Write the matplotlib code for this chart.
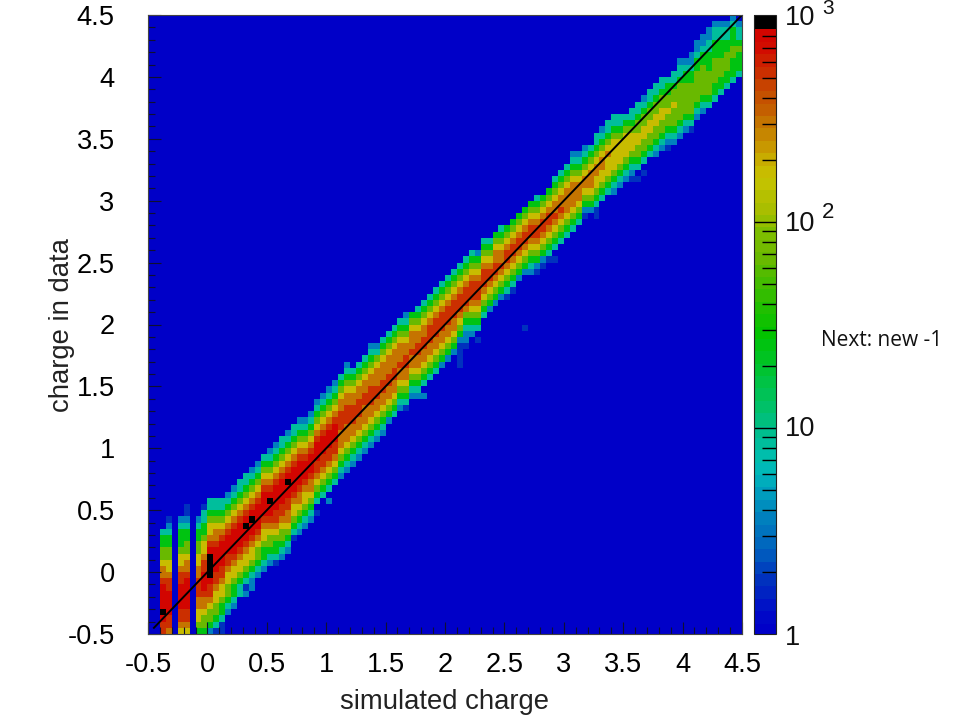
import numpy as np
import matplotlib
matplotlib.use("Agg")
import matplotlib.pyplot as plt
from matplotlib.colors import LinearSegmentedColormap, ListedColormap, LogNorm

plt.rcParams['font.family'] = ['Liberation Sans', 'DejaVu Sans']

# histogram cells, one colour class per digit, going upwards
# from the row in col_first; X is the black (saturated) class
count_for_class = {'0': 1, '1': 1.8, '2': 3.5, '3': 8, '4': 25, '5': 70,
                   '6': 178, '7': 316, '8': 560, '9': 794, 'X': 1005}

col_first = [0, 0, 0, 0, 0, 0, 0, 0, 0, 0,
             0, 0, 0, 3, 4, 6, 6, 7, 9, 10,
             11, 11, 12, 13, 15, 16, 17, 18, 19, 22,
             21, 24, 25, 26, 27, 28, 29, 30, 31, 32,
             34, 35, 36, 36, 38, 38, 38, 41, 42, 43,
             44, 45, 43, 46, 48, 47, 51, 52, 53, 54,
             54, 55, 57, 49, 58, 58, 59, 60, 60, 63,
             64, 65, 66, 67, 68, 67, 70, 71, 71, 72,
             73, 73, 73, 74, 77, 77, 78, 78, 79, 80,
             81, 81, 83, 84, 85, 86, 87, 88, 89, 90]

col_levels = [
    "", "", "889X9999877655443", "7889999887665544321", "",
    "6788999988766544432", "678899999877655443211", "", "4566778887766554432", "455677899988766544331",
    "245567889XXXX987665433", "1345566788999987765433", "1134456678899998765433", "23455667889998765432", "23445667899998765432",
    "3345667899998765433", "21345667899X98765433", "22345667899X98765432", "2345567899998765432", "2344566789999876543",
    "2345567899X98765432", "13445678899998765432", "23455678899998765433", "23456778899X98765432", "1345667899998765433",
    "2345677899998765432", "234566789998765432", "234567789998765432", "1034567889998765432", "34567889998765432",
    "2034567889998765432", "34567889998765432", "23456777888776543", "234567778887765432", "2345677888776543",
    "2345677888776543", "2345677788776543", "23456778887765432", "2345677887776532", "2345677887776543",
    "245677887776543", "345677887776543", "234567787776543", "1345677887765432", "23456778777654",
    "234567788776543", "2034567788776543", "34567788876543", "34567788876543", "24567788876543",
    "24567788876543", "24567788876543", "11112456788876543", "122345788876543", "23456788876543",
    "103456788876542", "3456788876543", "245678876543", "245678877654", "245678776543",
    "134567887654", "134567887654", "24567887654", "10000000024567887654", "234567887654",
    "1245678876543", "124567887654", "134567887654", "10345678776543", "345678776543",
    "345677776543", "3456777765432", "345677765432", "124567765432", "24567776543",
    "11345667765433", "345667765432", "345666765433", "2345666665433", "234566665433",
    "23456666543", "123456665433", "1034556655433", "1034556655432", "34556655433",
    "234556655433", "234556655433", "123455655443", "234555655433", "2345555554332",
    "234555554432", "1345555544322", "2345555544322", "2345555544322", "3455554443322",
    "3445555444332", "344555444332", "34455544332", "34445544432", "344454332",
]

diag_x = [-0.45, 4.5]
diag_y = [-0.45, 4.5]

x_ticks = [-0.5, 0, 0.5, 1, 1.5, 2, 2.5, 3, 3.5, 4, 4.5]
tick_labels = ['-0.5', '0', '0.5', '1', '1.5', '2', '2.5', '3', '3.5', '4', '4.5']

# colour bar as measured: log10(count) against colour
bar_pos = [0.0, 0.08, 0.25, 0.41, 0.57, 0.73, 0.83, 1.0, 1.23, 1.48, 1.64, 1.88, 1.98, 2.11, 2.27, 2.43, 2.59, 2.75, 2.92, 2.97]
bar_rgb = [(0, 0, 200), (0, 10, 200), (0, 50, 190), (0, 100, 190), (0, 130, 190), (0, 170, 190),
           (0, 190, 180), (0, 190, 140), (0, 195, 70), (0, 195, 0), (40, 190, 0), (110, 185, 0),
           (125, 190, 0), (170, 190, 0), (200, 195, 0), (200, 150, 0), (195, 100, 0), (200, 60, 0),
           (210, 10, 0), (210, 5, 0)]

vmin, vmax = 1, 1012
smooth = LinearSegmentedColormap.from_list(
    'root', [(p / 2.97, tuple(c / 255 for c in rgb)) for p, rgb in zip(bar_pos, bar_rgb)])
colors = [smooth(k / 48) for k in range(49)] + [(0, 0, 0, 1)]
cmap = ListedColormap(colors)
norm = LogNorm(vmin=vmin, vmax=vmax)

counts = np.ones((100, 100))
for i, (first, levels) in enumerate(zip(col_first, col_levels)):
    for k, ch in enumerate(levels):
        counts[first + k, i] = count_for_class[ch]

fig = plt.figure(figsize=(9.6, 7.2), dpi=100)
ax = fig.add_axes([148 / 960, 86 / 720, 594 / 960, 619 / 720])
edges = np.linspace(-0.5, 4.5, 101)
mesh = ax.pcolormesh(edges, edges, counts, cmap=cmap, norm=norm)
ax.plot(diag_x, diag_y, color='black', lw=1.4)
ax.set_xlim(-0.5, 4.5)
ax.set_ylim(-0.5, 4.5)

ax.set_xticks(x_ticks)
ax.set_xticklabels(tick_labels)
ax.set_yticks(x_ticks)
ax.set_yticklabels(tick_labels)
minor = np.arange(-0.5, 4.51, 0.1)
ax.set_xticks(minor, minor=True)
ax.set_yticks(minor, minor=True)
ax.tick_params(which='major', direction='in', length=9, width=0.8, labelsize=19.6, color='#101030')
ax.tick_params(which='minor', direction='in', length=5, width=0.8, color='#101030')
ax.tick_params(axis='x', which='major', pad=13)
ax.tick_params(axis='y', which='major', pad=24)
for side in ax.spines.values():
    side.set_color('#444444')

fig.text(445 / 960, 1 - 702 / 720, 'simulated charge', fontsize=19.8, ha='center', va='center', color='#222222')
fig.text(62 / 960, 1 - 325 / 720, 'charge in data', fontsize=19.8, rotation=90, ha='center', va='center', color='#222222')

cax = fig.add_axes([754 / 960, 86 / 720, 22 / 960, 619 / 720])
cbar = fig.colorbar(mesh, cax=cax)
cbar.outline.set_edgecolor('#222222')
cbar.solids.set_edgecolor('face')
major_c = [10, 100]
minor_c = [2, 3, 4, 5, 6, 7, 8, 9, 20, 30, 40, 50, 60, 70, 80, 90,
           200, 300, 400, 500, 600, 700, 800, 900]
cax.set_yticks(major_c)
cax.set_yticks(minor_c, minor=True)
cax.set_yticklabels([])
cax.set_yticklabels([], minor=True)
cax.tick_params(which='major', direction='in', right=True, length=16, width=1, color='black')
cax.tick_params(which='minor', direction='in', right=True, length=10, width=1, color='black')

for px, py, txt, size in [(785, 638, '1', 19.6), (785, 429, '10', 19.6), (785, 224, '10', 19.6),
                          (822, 212, '2', 16), (785, 18, '10', 19.6), (822, 9, '3', 15)]:
    fig.text(px / 960, 1 - py / 720, txt, fontsize=size, ha='left', va='center', color='#111111')

fig.text(821 / 960, 1 - 341 / 720, 'Next: new -1', fontsize=15, ha='left', va='center',
         family=['Open Sans', 'DejaVu Sans'], color='#111111')

fig.savefig('out.png', dpi=100)
